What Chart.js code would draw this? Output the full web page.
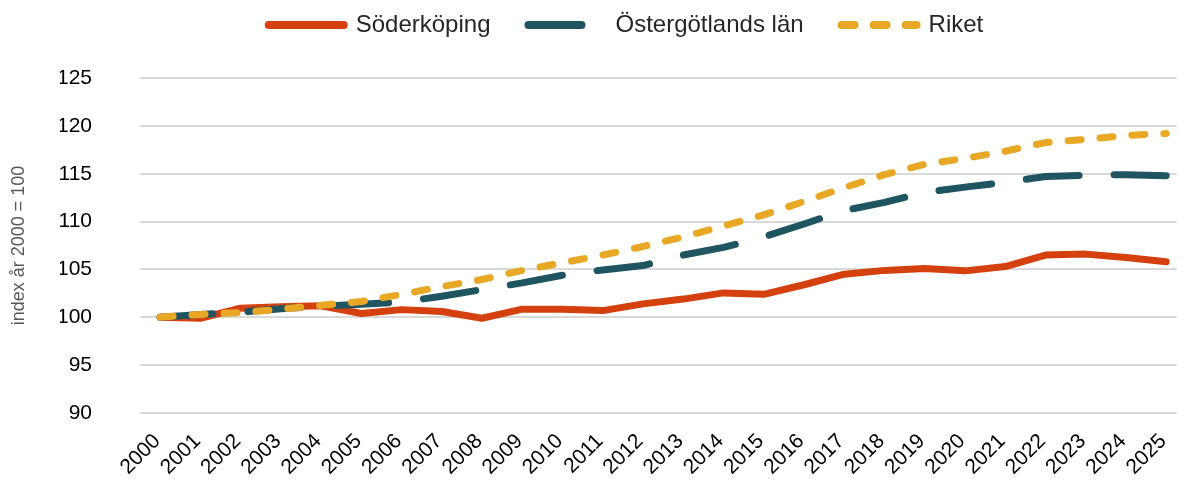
<!DOCTYPE html>
<html>
<head>
<meta charset="utf-8">
<script src="https://cdn.jsdelivr.net/npm/chart.js@4"></script>
<style>
  html, body { margin: 0; padding: 0; background: #fff; }
  #wrap { width: 1192px; height: 484px; }
</style>
</head>
<body>
<div id="wrap"><canvas id="chart" width="1192" height="484"></canvas></div>
<script>
const years = [2000, 2001, 2002, 2003, 2004, 2005, 2006, 2007, 2008, 2009, 2010, 2011, 2012,
  2013, 2014, 2015, 2016, 2017, 2018, 2019, 2020, 2021, 2022, 2023, 2024, 2025];

const soderkoping = [100, 99.9, 100.95, 101.1, 101.2, 100.4, 100.8, 100.6, 99.9, 100.85, 100.85, 100.7, 101.4,
  101.9, 102.55, 102.4, 103.4, 104.5, 104.9, 105.1, 104.85, 105.3, 106.5, 106.6, 106.25, 105.8];
const ostergotland = [100, 100.3, 100.55, 100.9, 101.15, 101.35, 101.6, 102.2, 102.9, 103.6, 104.4, 104.95, 105.4,
  106.5, 107.3, 108.4, 109.75, 111.15, 112.0, 113.05, 113.6, 114.1, 114.7, 114.85, 114.9, 114.8];
const riket = [100, 100.3, 100.5, 100.85, 101.25, 101.65, 102.4, 103.2, 103.95, 104.9, 105.7, 106.5, 107.4,
  108.4, 109.55, 110.7, 112.1, 113.55, 114.9, 116.0, 116.6, 117.35, 118.25, 118.6, 119.0, 119.2];

const yTicks = [90, 95, 100, 105, 110, 115, 120, 125];

const fontFamily = "'Liberation Sans', Arial, sans-serif";

function lineSet(label, data, color, dash, order) {
  return {
    label,
    data,
    borderColor: color,
    backgroundColor: color,
    borderWidth: 7,
    borderDash: dash,
    borderCapStyle: "round",
    borderJoinStyle: "round",
    tension: 0,
    pointRadius: 0,
    pointHoverRadius: 0,
    fill: false,
    order
  };
}

// legend samples as dashed lines, in dataset order
function legendLabels(chart) {
  const items = Chart.defaults.plugins.legend.labels.generateLabels(chart);
  items.forEach((item) => {
    const ds = chart.data.datasets[item.datasetIndex];
    item.lineDash = ds.borderDash;
    item.lineCap = "round";
    item.lineWidth = 8;
    item.strokeStyle = ds.borderColor;
  });
  return items.sort((a, b) => a.datasetIndex - b.datasetIndex);
}

new Chart(document.getElementById("chart"), {
  type: "line",
  data: {
    labels: years,
    datasets: [
      lineSet("Söderköping", soderkoping, "#D4410F", [], 3),
      lineSet("Östergötlands län", ostergotland, "#1E5560", [53, 35], 2),
      lineSet("Riket", riket, "#E8A826", [13, 19], 1)
    ]
  },
  options: {
    responsive: false,
    devicePixelRatio: 1,
    animation: false,
    layout: { padding: { top: -25, left: 60, right: 0, bottom: 0 } },
    plugins: {
      tooltip: { enabled: false },
      legend: {
        position: "top",
        labels: {
          usePointStyle: true,
          pointStyle: "line",
          pointStyleWidth: 75,
          padding: 38,
          color: "#262626",
          font: { family: fontFamily, size: 24 },
          generateLabels: legendLabels
        }
      },
      subtitle: {
        display: true,
        text: " ",
        weight: 500,
        font: { size: 10, lineHeight: 1 },
        padding: { top: 21, bottom: 0 }
      }
    },
    scales: {
      x: {
        type: "linear",
        min: 1999.5,
        max: 2025.26,
        afterBuildTicks: (scale) => {
          scale.ticks = years.map((v) => ({ value: v }));
        },
        afterFit: (scale) => { scale.height = 71; },
        grid: { display: false },
        border: { display: false },
        ticks: {
          autoSkip: false,
          minRotation: 45,
          maxRotation: 45,
          padding: 8,
          labelOffset: -3,
          color: "#000",
          font: { family: fontFamily, size: 21 },
          callback: (v) => String(v)
        }
      },
      y: {
        min: 90,
        max: 125,
        afterBuildTicks: (scale) => {
          scale.ticks = yTicks.map((v) => ({ value: v }));
        },
        afterFit: (scale) => { scale.width = 80; },
        grid: { color: "#D9D9D9", lineWidth: 2, drawTicks: false },
        border: { display: false },
        ticks: {
          padding: 48,
          color: "#000",
          font: { family: fontFamily, size: 21 }
        },
        title: {
          display: true,
          text: "index år 2000 = 100",
          color: "#595959",
          font: { family: fontFamily, size: 18 },
          padding: { top: -52, bottom: 0 }
        }
      }
    }
  }
});
</script>
</body>
</html>
